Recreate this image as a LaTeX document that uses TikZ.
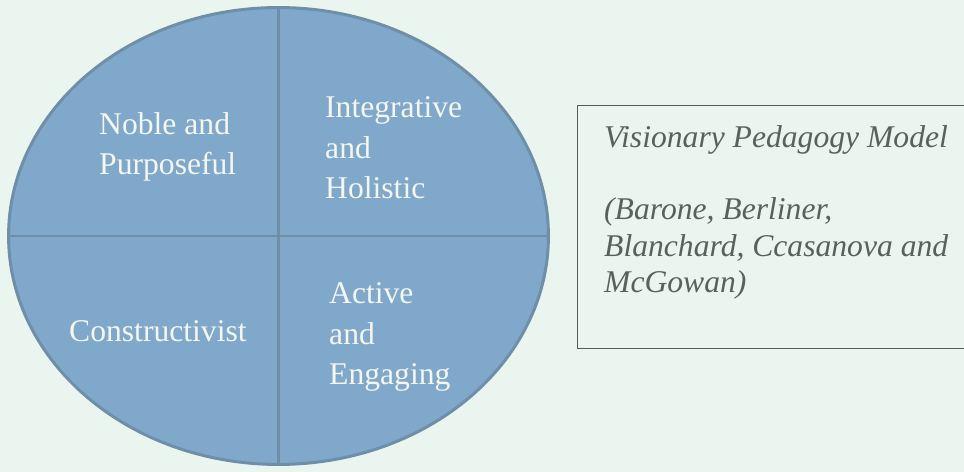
\documentclass[tikz,border=0pt]{standalone}
\usepackage{fontspec}
\setmainfont{Liberation Serif}
\usetikzlibrary{positioning,shapes}
\definecolor{paper}{HTML}{EAF5EF}
\definecolor{disc}{HTML}{80A8CA}
\definecolor{rim}{HTML}{6F8EA8}
\definecolor{quadtext}{HTML}{F4F6F0}
\definecolor{boxline}{HTML}{545E59}
\definecolor{notetext}{HTML}{58625D}

\begin{document}
\begin{tikzpicture}[x=0.02cm,y=-0.02cm,
  quad/.style={text=quadtext,align=left,anchor=base west,font=\fontsize{18}{23.3}\selectfont},
  note/.style={text=notetext,align=left,anchor=base west,font=\fontsize{18}{21}\selectfont\itshape},
  divider/.style={draw=rim,line width=1.6pt}]
  \fill[paper] (0,0) rectangle (964,472);
  \useasboundingbox (0,0) rectangle (964,472);
  \clip (0,0) rectangle (964,472);
  \node[ellipse,draw=rim,fill=disc,line width=1.7pt,minimum width=10.8cm,minimum height=9.14cm] (model) at (278.5,236) {};
  \draw[divider] (model.north) -- (model.south);
  \draw[divider] (model.west) -- (model.east);
  % base anchor sits on the last line
  \node[quad] (noble) at (93,175) {Noble and\\Purposeful};
  \node[quad] (integ) at (319,199) {Integrative\\and\\Holistic};
  \node[quad] (constr) at (63,342) {Constructivist};
  \node[quad] (active) at (323,385) {Active\\and\\Engaging};
  \node[draw=boxline,line width=0.85pt,anchor=north west,minimum width=8cm,minimum height=4.86cm] (source) at (577,104.7) {};
  \node[note] (title) at (598,148) {Visionary Pedagogy Model};
  \node[note] (authors) at (598,293) {(Barone, Berliner,\\Blanchard, Ccasanova and\\McGowan)};
\end{tikzpicture}
\end{document}
